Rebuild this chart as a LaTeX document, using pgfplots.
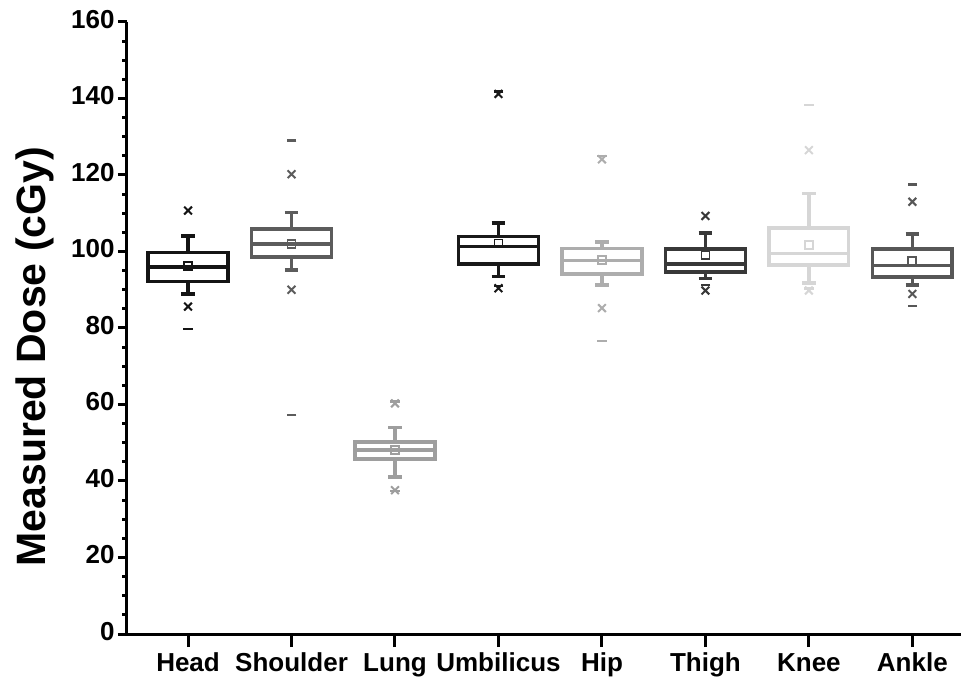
\documentclass[border=0pt]{standalone}
\usepackage{pgfplots}
\pgfplotsset{compat=1.18}
\usepackage{fontspec}
\setmainfont{Liberation Sans}
\definecolor{cHead}{gray}{0.08}
\definecolor{cShoulder}{gray}{0.36}
\definecolor{cLung}{gray}{0.62}
\definecolor{cUmb}{gray}{0.10}
\definecolor{cHip}{gray}{0.68}
\definecolor{cThigh}{gray}{0.22}
\definecolor{cKnee}{gray}{0.84}
\definecolor{cAnkle}{gray}{0.34}
\pgfplotsset{
  bx/.style={draw=#1, line width=3.5bp, solid, mark=none, line join=miter},
  meanm/.style={only marks, mark=square, mark size=4bp, mark options={draw=#1, line width=1.8bp}},
  xm/.style={only marks, mark=x, mark size=5.5bp, mark options={draw=#1, line width=2bp}},
  dm/.style={only marks, mark=-, mark size=4.8bp, mark options={draw=#1, line width=2.6bp}},
}
\begin{document}
\begin{tikzpicture}
\begin{axis}[
  scale only axis, width=834bp, height=612bp,
  xmin=0.41, xmax=8.47, ymin=0, ymax=160,
  axis x line=bottom, axis y line=left,
  axis line style={-, line width=3bp, black},
  xtick={1,2,3,4,5,6,7,8},
  xticklabels={Head,Shoulder,Lung,Umbilicus,Hip,Thigh,Knee,Ankle},
  ytick={0,20,40,60,80,100,120,140,160},
  minor y tick num=3,
  tick align=outside,
  major tick length=9bp, minor tick length=4.5bp,
  xtick style={line width=3bp, black, /pgfplots/major tick length=13bp},
  ytick style={line width=3bp, black},
  ticklabel style={font=\bfseries\fontsize{26bp}{31bp}\selectfont},
  typeset ticklabels with strut,
  xticklabel style={yshift=-3bp},
  /pgf/number format/assume math mode=true,
  ylabel={Measured Dose (cGy)},
  ylabel style={font=\bfseries\fontsize{41bp}{48bp}\selectfont, at={(axis description cs:-0.0983,0.453)}, anchor=base},
  unbounded coords=jump,
]
% Head: lower whisker 88.9, Q1 92.1, median 96.0, Q3 99.7, upper whisker 104.1
\addplot[bx=cHead] coordinates {(0.615,92.1)(1.385,92.1)(1.385,99.7)(0.615,99.7)(0.615,92.1)(1.385,92.1) (nan,nan) (0.615,96.0)(1.385,96.0) (nan,nan) (1,99.7)(1,104.1) (nan,nan) (0.935,104.1)(1.065,104.1) (nan,nan) (1,92.1)(1,88.9) (nan,nan) (0.935,88.9)(1.065,88.9)};
\addplot[meanm=cHead] coordinates {(1,96.3)};
\addplot[xm=cHead] coordinates {(1,110.7) (1,85.6)};
\addplot[dm=cHead] coordinates {(1,79.7)};
% Shoulder: 95.2, 98.6, 101.9, 105.9, 110.2
\addplot[bx=cShoulder] coordinates {(1.615,98.6)(2.385,98.6)(2.385,105.9)(1.615,105.9)(1.615,98.6)(2.385,98.6) (nan,nan) (1.615,101.9)(2.385,101.9) (nan,nan) (2,105.9)(2,110.2) (nan,nan) (1.935,110.2)(2.065,110.2) (nan,nan) (2,98.6)(2,95.2) (nan,nan) (1.935,95.2)(2.065,95.2)};
\addplot[meanm=cShoulder] coordinates {(2,102.0)};
\addplot[xm=cShoulder] coordinates {(2,120.2) (2,90.0)};
\addplot[dm=cShoulder] coordinates {(2,129.0) (2,57.3)};
% Lung: 41.0, 45.7, 48.1, 50.2, 54.0
\addplot[bx=cLung] coordinates {(2.615,45.7)(3.385,45.7)(3.385,50.2)(2.615,50.2)(2.615,45.7)(3.385,45.7) (nan,nan) (2.615,48.1)(3.385,48.1) (nan,nan) (3,50.2)(3,54.0) (nan,nan) (2.935,54.0)(3.065,54.0) (nan,nan) (3,45.7)(3,41.0) (nan,nan) (2.935,41.0)(3.065,41.0)};
\addplot[meanm=cLung] coordinates {(3,48.0)};
\addplot[xm=cLung] coordinates {(3,60.3) (3,37.6)};
\addplot[dm=cLung] coordinates {(3,60.8) (3,37.4)};
% Umbilicus: 93.4, 96.7, 101.3, 103.9, 107.5
\addplot[bx=cUmb] coordinates {(3.615,96.7)(4.385,96.7)(4.385,103.9)(3.615,103.9)(3.615,96.7)(4.385,96.7) (nan,nan) (3.615,101.3)(4.385,101.3) (nan,nan) (4,103.9)(4,107.5) (nan,nan) (3.935,107.5)(4.065,107.5) (nan,nan) (4,96.7)(4,93.4) (nan,nan) (3.935,93.4)(4.065,93.4)};
\addplot[meanm=cUmb] coordinates {(4,102.1)};
\addplot[xm=cUmb] coordinates {(4,141.2) (4,90.4)};
\addplot[dm=cUmb] coordinates {(4,141.8) (4,91.0)};
% Hip: 91.2, 94.1, 97.6, 100.8, 102.5
\addplot[bx=cHip] coordinates {(4.615,94.1)(5.385,94.1)(5.385,100.8)(4.615,100.8)(4.615,94.1)(5.385,94.1) (nan,nan) (4.615,97.6)(5.385,97.6) (nan,nan) (5,100.8)(5,102.5) (nan,nan) (4.935,102.5)(5.065,102.5) (nan,nan) (5,94.1)(5,91.2) (nan,nan) (4.935,91.2)(5.065,91.2)};
\addplot[meanm=cHip] coordinates {(5,97.8)};
\addplot[xm=cHip] coordinates {(5,124.1) (5,85.2)};
\addplot[dm=cHip] coordinates {(5,125.0) (5,76.6)};
% Thigh: 93.0, 94.6, 96.7, 100.6, 104.9
\addplot[bx=cThigh] coordinates {(5.615,94.6)(6.385,94.6)(6.385,100.6)(5.615,100.6)(5.615,94.6)(6.385,94.6) (nan,nan) (5.615,96.7)(6.385,96.7) (nan,nan) (6,100.6)(6,104.9) (nan,nan) (5.935,104.9)(6.065,104.9) (nan,nan) (6,94.6)(6,93.0) (nan,nan) (5.935,93.0)(6.065,93.0)};
\addplot[meanm=cThigh] coordinates {(6,99.1)};
\addplot[xm=cThigh] coordinates {(6,109.3) (6,89.8)};
\addplot[dm=cThigh] coordinates {(6,91.2)};
% Knee: 91.7, 96.5, 99.5, 106.1, 115.2
\addplot[bx=cKnee] coordinates {(6.615,96.5)(7.385,96.5)(7.385,106.1)(6.615,106.1)(6.615,96.5)(7.385,96.5) (nan,nan) (6.615,99.5)(7.385,99.5) (nan,nan) (7,106.1)(7,115.2) (nan,nan) (6.935,115.2)(7.065,115.2) (nan,nan) (7,96.5)(7,91.7) (nan,nan) (6.935,91.7)(7.065,91.7)};
\addplot[meanm=cKnee] coordinates {(7,101.7)};
\addplot[xm=cKnee] coordinates {(7,126.5) (7,89.8)};
\addplot[dm=cKnee] coordinates {(7,138.3) (7,90.4)};
% Ankle: 91.2, 93.3, 96.3, 100.7, 104.6
\addplot[bx=cAnkle] coordinates {(7.615,93.3)(8.385,93.3)(8.385,100.7)(7.615,100.7)(7.615,93.3)(8.385,93.3) (nan,nan) (7.615,96.3)(8.385,96.3) (nan,nan) (8,100.7)(8,104.6) (nan,nan) (7.935,104.6)(8.065,104.6) (nan,nan) (8,93.3)(8,91.2) (nan,nan) (7.935,91.2)(8.065,91.2)};
\addplot[meanm=cAnkle] coordinates {(8,97.5)};
\addplot[xm=cAnkle] coordinates {(8,113.0) (8,88.9)};
\addplot[dm=cAnkle] coordinates {(8,117.5) (8,85.8)};
\end{axis}
\pgfresetboundingbox
\path ([shift={(-127bp,-49bp)}]current axis.south west) rectangle ([shift={(0bp,22bp)}]current axis.north east);
\end{tikzpicture}
\end{document}
